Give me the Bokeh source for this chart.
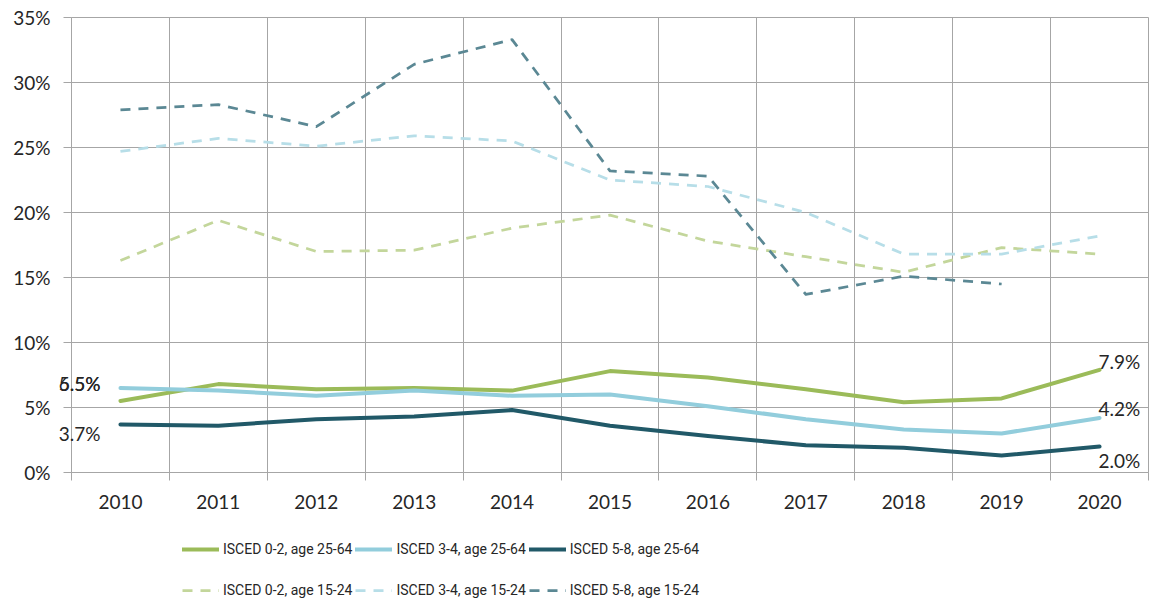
import math
from bokeh.plotting import figure
from bokeh.layouts import column
from bokeh.models import Range1d, FixedTicker, NumeralTickFormatter, Legend, LegendItem
from bokeh.embed import file_html
from bokeh.resources import INLINE
from bokeh.core.properties import value

years = [2010, 2011, 2012, 2013, 2014, 2015, 2016, 2017, 2018, 2019, 2020]
isced02_2564 = [5.5, 6.8, 6.4, 6.5, 6.3, 7.8, 7.3, 6.4, 5.4, 5.7, 7.9]
isced34_2564 = [6.5, 6.3, 5.9, 6.3, 5.9, 6.0, 5.1, 4.1, 3.3, 3.0, 4.2]
isced58_2564 = [3.7, 3.6, 4.1, 4.3, 4.8, 3.6, 2.8, 2.1, 1.9, 1.3, 2.0]
isced02_1524 = [16.3, 19.4, 17.0, 17.1, 18.8, 19.8, 17.8, 16.6, 15.4, 17.3, 16.8]
isced34_1524 = [24.7, 25.7, 25.1, 25.9, 25.5, 22.5, 22.0, 20.0, 16.8, 16.8, 18.2]
isced58_1524 = [27.9, 28.3, 26.6, 31.4, 33.3, 23.2, 22.8, 13.7, 15.1, 14.5, None]
y_ticks = [0, 5, 10, 15, 20, 25, 30, 35]

labels = ["ISCED 0-2, age 25-64", "ISCED 3-4, age 25-64", "ISCED 5-8, age 25-64",
          "ISCED 0-2, age 15-24", "ISCED 3-4, age 15-24", "ISCED 5-8, age 15-24"]

FONT = "Lato"
GRID = "#a6a6a6"
TXT = "#262626"

p = figure(width=1149, height=525, output_backend="svg", toolbar_location=None,
           x_range=Range1d(years[0] - 0.5, years[-1] + 0.5),
           y_range=Range1d(0, 0.35),
           min_border_left=71, min_border_right=1, min_border_top=17, min_border_bottom=53)
p.outline_line_color = GRID
p.outline_line_width = 1
p.background_fill_color = "white"
p.border_fill_color = "white"

bounds = [y - 0.5 for y in years] + [years[-1] + 0.5]
p.xaxis.ticker = FixedTicker(ticks=years, minor_ticks=bounds)
p.xgrid.ticker = FixedTicker(ticks=bounds)
p.xgrid.grid_line_color = GRID
p.xaxis.major_tick_out = 0
p.xaxis.major_tick_in = 0
p.xaxis.minor_tick_out = 8
p.xaxis.minor_tick_in = 0
p.xaxis.minor_tick_line_color = GRID
p.xaxis.axis_line_color = GRID
p.xaxis.major_label_standoff = 14
p.xaxis.major_label_text_font = FONT
p.xaxis.major_label_text_font_size = "19px"
p.xaxis.major_label_text_color = TXT

yt = [t / 100 for t in y_ticks]
p.yaxis.ticker = FixedTicker(ticks=yt, minor_ticks=[])
p.ygrid.ticker = FixedTicker(ticks=yt)
p.ygrid.grid_line_color = GRID
p.yaxis.formatter = NumeralTickFormatter(format="0%")
p.yaxis.major_tick_out = 8
p.yaxis.major_tick_in = 0
p.yaxis.major_tick_line_color = GRID
p.yaxis.minor_tick_line_color = None
p.yaxis.axis_line_color = GRID
p.yaxis.major_label_standoff = 13
p.yaxis.major_label_text_font = FONT
p.yaxis.major_label_text_font_size = "19px"
p.yaxis.major_label_text_color = TXT


def frac(vals):
    return [float("nan") if v is None else v / 100 for v in vals]


series = [
    (isced02_2564, "#9bbb59", 4, "solid"),
    (isced34_2564, "#92cddc", 4, "solid"),
    (isced58_2564, "#215968", 4, "solid"),
    (isced02_1524, "#c3d69b", 2.75, "10 8"),
    (isced34_1524, "#b7dee8", 2.75, "10 8"),
    (isced58_1524, "#5b8894", 2.75, "10 8"),
]
for vals, col, w, dash in series:
    p.line(years, frac(vals), line_color=col, line_width=w, line_dash=dash,
           line_cap="round" if dash == "solid" else "butt", line_join="round")

# data labels for solid series (first and last points)
solid = [isced02_2564, isced34_2564, isced58_2564]
left_offsets = [-18, -5, 9]
right_offsets = [-8, -9, 14]
for vals, lo, ro in zip(solid, left_offsets, right_offsets):
    p.text([years[0]], [vals[0] / 100], text=[f"{vals[0]:.1f}%"], x_offset=-20, y_offset=lo,
           text_align="right", text_baseline="middle", text_font=value(FONT),
           text_font_size="19px", text_color=TXT, level="overlay")
    p.text([years[-1]], [vals[-1] / 100], text=[f"{vals[-1]:.1f}%"], x_offset=-1, y_offset=ro,
           text_align="left", text_baseline="middle", text_font=value(FONT),
           text_font_size="19px", text_color=TXT, level="overlay")

# legend figure below the chart
lf = figure(width=1149, height=80, output_backend="svg", toolbar_location=None,
            x_range=Range1d(0, 1), y_range=Range1d(0, 1),
            min_border=0, min_border_left=0, min_border_right=0,
            min_border_top=0, min_border_bottom=0)
lf.axis.visible = False
lf.grid.visible = False
lf.outline_line_color = None
lf.background_fill_color = "white"
lf.border_fill_color = "white"

dummies = []
for vals, col, w, dash in series:
    dummies.append(lf.line([float("nan")], [float("nan")], line_color=col, line_width=w,
                           line_dash=dash, line_cap="round" if dash == "solid" else "butt"))

LFONT = "Roboto"
for row, vy in ((0, 46), (1, 5)):
    items = [LegendItem(label=labels[row * 3 + i], renderers=[dummies[row * 3 + i]]) for i in range(3)]
    lg = Legend(items=items, orientation="horizontal",
                location=(111, vy),
                padding=0, margin=0, spacing=3, glyph_width=37, glyph_height=20,
                label_height=20, label_standoff=4,
                label_text_font=LFONT, label_text_font_size="14px",
                label_text_color=TXT,
                border_line_color=None, background_fill_alpha=0)
    lf.add_layout(lg)

layout = column(p, lf, spacing=0)
open("out.html", "w").write(file_html(layout, INLINE))
